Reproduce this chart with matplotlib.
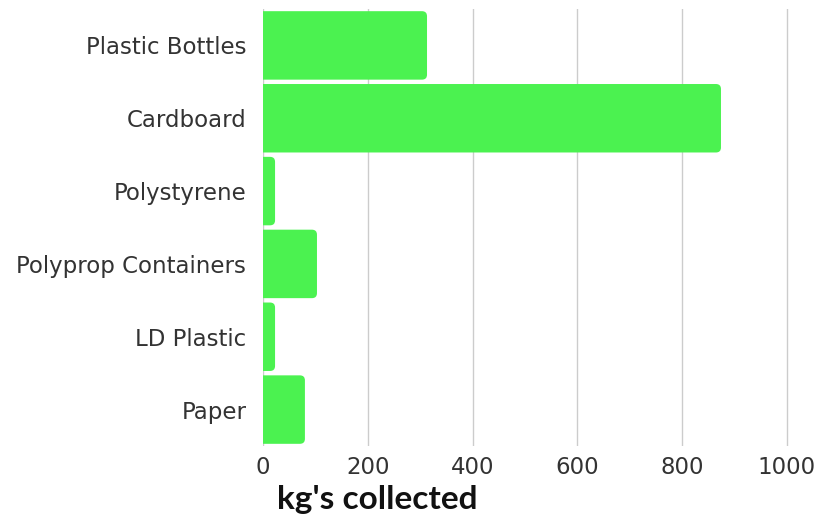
import matplotlib
matplotlib.use("Agg")
import matplotlib.pyplot as plt
from matplotlib.path import Path
from matplotlib.patches import PathPatch

categories = ["Plastic Bottles", "Cardboard", "Polystyrene", "Polyprop Containers", "LD Plastic", "Paper"]
values = [313, 874, 23, 103, 23, 80]
xticks = [0, 200, 400, 600, 800, 1000]
xlabel = "kg's collected"

BAR_COLOR = "#4bf250"
W, H, DPI = 830, 518, 100
fig = plt.figure(figsize=(W / DPI, H / DPI), dpi=DPI)
x0_px, x1000_px = 263, 787
ax_right_px = 800
ax_top, ax_bottom = 9, 446
ax = fig.add_axes([x0_px / W, 1 - ax_bottom / H, (ax_right_px - x0_px) / W, (ax_bottom - ax_top) / H])

n = len(categories)
ys = list(range(n))
bar_h = 0.94
bars = ax.barh(ys, values, height=bar_h, color="none", edgecolor="none")
px_x = (x1000_px - x0_px) / 1000.0
ax.set_xlim(0, (ax_right_px - x0_px) / px_x)
ax.set_ylim(n - 0.5, -0.5)

px_y = (ax_bottom - ax_top) / n
r_px = 5.0
for b in bars:
    bx, by = b.get_x(), b.get_y()
    w, h = b.get_width(), b.get_height()
    rx = min(r_px / px_x, w / 2)
    ry = rx * px_x / px_y
    x1, y1 = bx + w, by + h
    verts = [(bx, by), (x1 - rx, by), (x1, by), (x1, by + ry), (x1, y1 - ry), (x1, y1), (x1 - rx, y1),
             (bx, y1), (bx, by)]
    codes = [Path.MOVETO, Path.LINETO, Path.CURVE3, Path.CURVE3, Path.LINETO, Path.CURVE3, Path.CURVE3,
             Path.LINETO, Path.CLOSEPOLY]
    ax.add_patch(PathPatch(Path(verts, codes), facecolor=BAR_COLOR, edgecolor="none", zorder=3))

ax.set_xticks(xticks)
ax.set_xticklabels([str(t) for t in xticks])
ax.set_yticks(ys)
ax.set_yticklabels(categories)
ax.grid(axis="x", color="#cccccc", linewidth=1)
ax.set_axisbelow(True)
for s in ax.spines.values():
    s.set_visible(False)
ax.tick_params(axis="both", length=0, colors="#333333", labelsize=16.5)
ax.tick_params(axis="y", pad=12)
ax.tick_params(axis="x", pad=7)
for lab in ax.get_xticklabels() + ax.get_yticklabels():
    lab.set_fontfamily("DejaVu Sans")

fig.text(277 / W, 1 - 500 / H, xlabel, ha="left", va="center", fontsize=24, fontweight="bold",
         family="Lato", color="#111111")

fig.savefig("out.png", dpi=DPI, facecolor="white")
